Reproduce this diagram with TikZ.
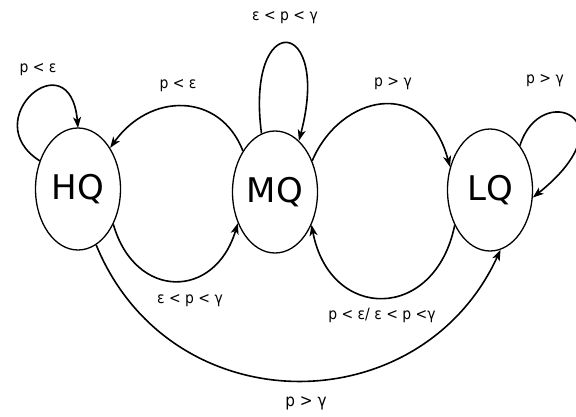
\documentclass[tikz,border=0pt]{standalone}
\usepackage{fontspec}
\setmainfont{DejaVu Sans}
\newfontfamily\labfont{DejaVu Sans Condensed}
\usetikzlibrary{shapes.geometric,arrows.meta}
\tikzset{
  state/.style={draw, ellipse, line width=1.3pt, minimum width=85pt, minimum height=122pt, inner sep=0pt, font=\fontsize{34}{38}\selectfont},
  edge/.style={line width=1.6pt, -{Stealth[length=11pt,width=8pt,inset=3pt]}},
  lab/.style={font=\labfont\fontsize{15.5}{18}\selectfont, inner sep=0pt}
}
\begin{document}
\begin{tikzpicture}[x=1pt,y=-1pt]
\useasboundingbox (0,0) rectangle (576,416);
\node[state] (HQ) at (78,189) {HQ};
\node[state] (MQ) at (275,192) {MQ};
\node[state] (LQ) at (490,190) {LQ};
\coordinate (hqloopA) at (40,161);
\coordinate (hqtop) at (78,128);
% HQ self loop
\draw[edge] (hqloopA) .. controls (-25,120) and (70,38) .. (hqtop);
% MQ -> HQ
\draw[edge] (MQ.128) .. controls (220,92) and (150,92) .. (HQ.52);
% MQ self loop
\draw[edge] (MQ.103) .. controls (245,8) and (332,16) .. (MQ.65);
% MQ -> LQ
\draw[edge] (MQ.40) .. controls (340,95) and (425,75) .. (LQ.150);
% LQ self loop
\draw[edge] (LQ.56) .. controls (540,80) and (632,118) .. (LQ.-10);
% HQ -> MQ
\draw[edge] (HQ.-45) .. controls (135,300) and (215,300) .. (MQ.-140);
% LQ -> MQ
\draw[edge] (LQ.-135) .. controls (435,322) and (330,322) .. (MQ.-42);
% HQ -> LQ
\draw[edge] (HQ.-72) .. controls (170,425) and (420,425) .. (LQ.-80);
% labels
\node[lab] (l1) at (38,70) {p < ε};
\node[lab] (l2) at (178,86) {p < ε};
\node[lab] (l3) at (285,18) {ε < p < γ};
\node[lab] (l4) at (393,84) {p > γ};
\node[lab] (l5) at (545,81) {p > γ};
\node[lab] (l6) at (190,301) {ε < p < γ};
\node[lab] (l7) at (382,315) {p < ε/ ε < p <γ};
\node[lab, font=\labfont\fontsize{17}{20}\selectfont] (l8) at (306,403) {p > γ};
\end{tikzpicture}
\end{document}
